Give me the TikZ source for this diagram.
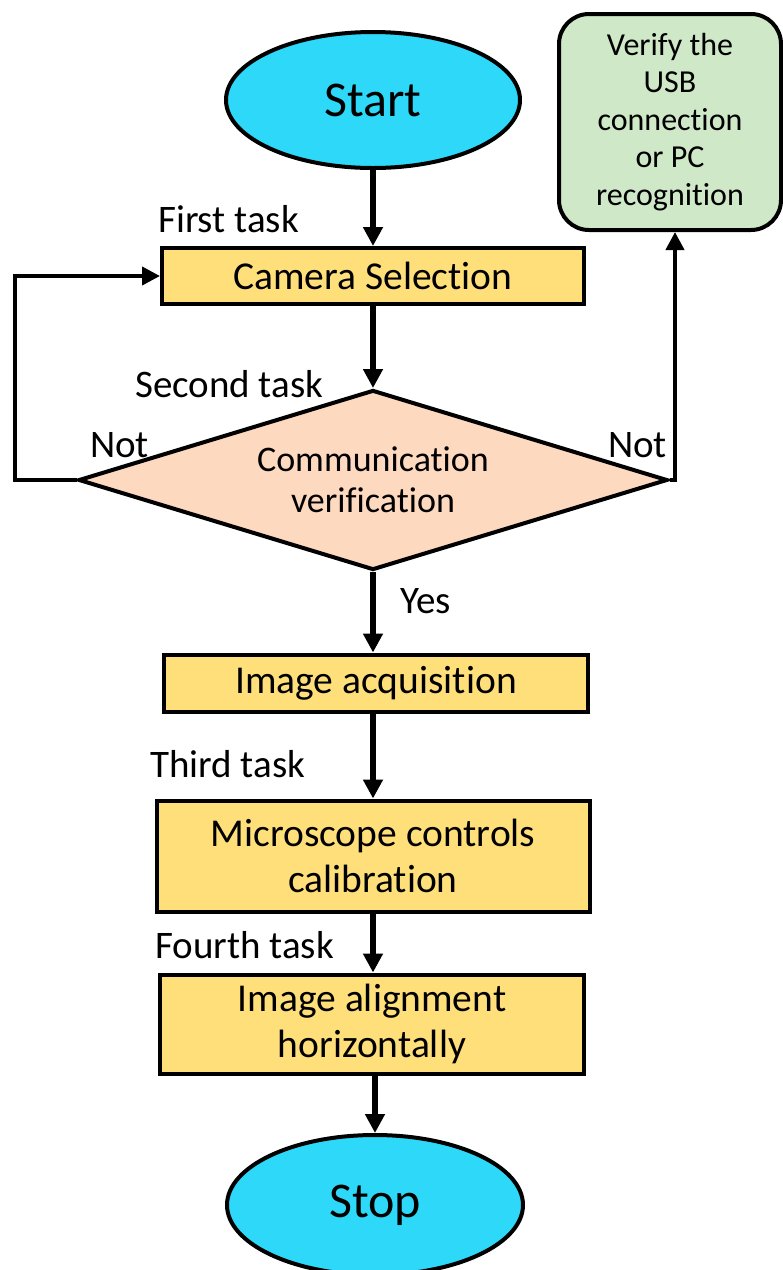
\documentclass[tikz,border=0pt]{standalone}
\usepackage{fontspec}
\setmainfont{Carlito}[Ligatures=NoCommon]
\usetikzlibrary{arrows.meta,shapes.geometric}
\definecolor{cyanfill}{RGB}{46,216,248}
\definecolor{goldfill}{RGB}{255,223,122}
\definecolor{peachfill}{RGB}{253,217,192}
\definecolor{greenfill}{RGB}{207,232,199}
\begin{document}
\begin{tikzpicture}[x=1pt,y=-1pt,
  term/.style={ellipse,draw=black,line width=4pt,fill=cyanfill,inner sep=0pt,font=\fontsize{50}{60}\selectfont},
  taskbox/.style={rectangle,draw=black,line width=4pt,fill=goldfill,inner sep=0pt,align=center,font=\fontsize{39.5}{46}\selectfont},
  decide/.style={diamond,draw=black,line width=4pt,fill=peachfill,inner sep=0pt,align=center,font=\fontsize{36}{41}\selectfont},
  notebox/.style={rectangle,rounded corners=30pt,draw=black,line width=4pt,fill=greenfill,inner sep=0pt,align=center,font=\fontsize{32}{37.5}\selectfont},
  lbl/.style={anchor=base west,inner sep=0pt,font=\fontsize{39}{46}\selectfont},
  arr/.style={line width=6pt,-{Triangle[width=19pt,length=19pt]}},
  looparr/.style={line width=4pt,-{Triangle[width=18pt,length=18pt]}}
]
\path[use as bounding box,fill=white] (0,0) rectangle (783,1270);

\node[term,minimum width=294pt,minimum height=136pt] (start) at (373,100) {Start};
\node[taskbox,minimum width=422pt,minimum height=56pt] (cam) at (373,276) {Camera Selection};
\node[decide,minimum width=589pt,minimum height=180pt,shape aspect=3.27] (diam) at (373,480) {Communication\\verification};
\node[notebox,minimum width=222pt,minimum height=216pt] (usb) at (670,122) {Verify the\\USB\\connection\\or PC\\recognition};
\node[taskbox,minimum width=424pt,minimum height=57pt] (acq) at (376,683) {Image acquisition};
\node[taskbox,minimum width=433pt,minimum height=111pt] (mic) at (373,856) {Microscope controls\\calibration};
\node[taskbox,minimum width=424pt,minimum height=99pt] (ali) at (372,1024) {Image alignment\\horizontally};
\node[term,minimum width=296pt,minimum height=140pt] (stop) at (375,1205) {Stop};

\node[lbl] (l1) at (158,232) {First task};
\node[lbl] (l2) at (135,397) {Second task};
\node[lbl] (nl) at (90,457) {Not};
\node[lbl] (nr) at (608,457) {Not};
\node[lbl] (yes) at (400,613) {Yes};
\node[lbl] (l3) at (150,777) {Third task};
\node[lbl] (l4) at (155,958) {Fourth task};

\coordinate (ul) at (15,480);
\coordinate (ur) at (675,480);

\draw[arr] (start.south) -- (cam.north);
\draw[arr] (cam.south) -- (diam.north);
\draw[arr] (diam.south) -- (diam.south |- acq.north);
\draw[arr] (mic.north |- acq.south) -- (mic.north);
\draw[arr] (mic.south) -- (mic.south |- ali.north);
\draw[arr] (stop.north |- ali.south) -- (stop.north);
\draw[looparr] (diam.west) -- (ul) |- (cam.west);
\draw[looparr] (diam.east) -- (ur) -- (ur |- usb.south);
\end{tikzpicture}
\end{document}
